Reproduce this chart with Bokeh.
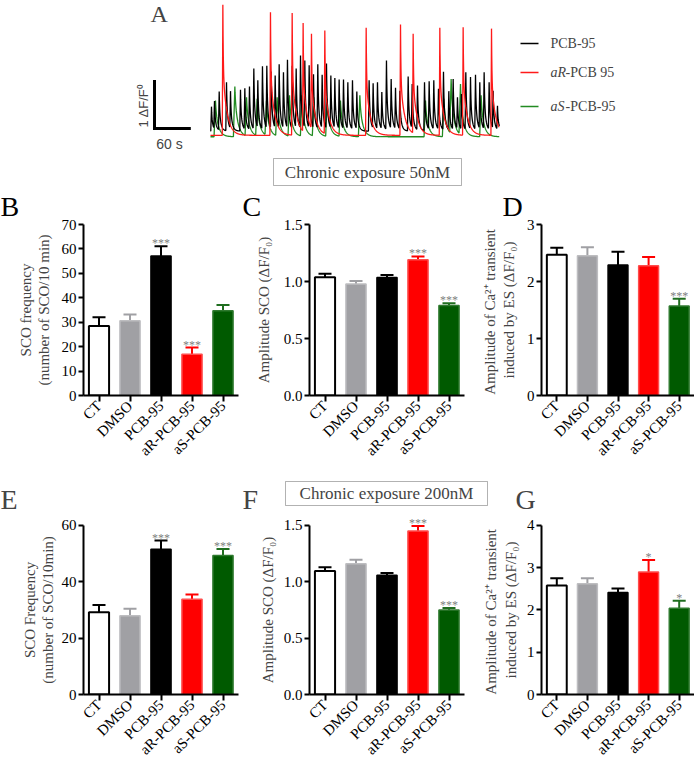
import math
import numpy as np
from bokeh.plotting import figure
from bokeh.models import (Range1d, FactorRange, Label, BoxAnnotation, FixedTicker,
                          NumeralTickFormatter, ColumnDataSource)
from bokeh.layouts import column, row
from bokeh.embed import file_html
from bokeh.resources import INLINE

SERIF = "Liberation Serif"
SANS = "Liberation Sans"

# ------------------------------------------------------------------ data
GROUPS = ["CT", "DMSO", "PCB-95", "aR-PCB-95", "aS-PCB-95"]
BAR_FILL = ["#ffffff", "#a0a0a4", "#000000", "#ff0000", "#005a00"]
BAR_EDGE = ["#000000", "#bdbdc0", "#000000", "#ff4d4d", "#2f7a2f"]
ERR_COLOR = ["#000000", "#a0a0a4", "#000000", "#ff0000", "#1f6e1f"]

B_MEAN = [28.5, 30.6, 57.1, 16.9, 34.7]
B_SEM = [3.5, 2.6, 4.0, 2.7, 2.3]
B_STARS = ["", "", "***", "***", ""]
C_MEAN = [1.037, 0.978, 1.034, 1.19, 0.79]
C_SEM = [0.030, 0.027, 0.024, 0.030, 0.020]
C_STARS = ["", "", "", "***", "***"]
D_MEAN = [2.47, 2.45, 2.29, 2.275, 1.568]
D_SEM = [0.12, 0.15, 0.23, 0.155, 0.13]
D_STARS = ["", "", "", "", "***"]
E_MEAN = [29.2, 27.9, 51.5, 33.8, 49.3]
E_SEM = [2.6, 2.5, 3.1, 1.7, 2.3]
E_STARS = ["", "", "***", "", "***"]
F_MEAN = [1.095, 1.16, 1.057, 1.45, 0.75]
F_SEM = [0.033, 0.036, 0.021, 0.044, 0.018]
F_STARS = ["", "", "", "***", "***"]
G_MEAN = [2.58, 2.62, 2.41, 2.90, 2.04]
G_SEM = [0.17, 0.13, 0.10, 0.28, 0.18]
G_STARS = ["", "", "", "*", "*"]

B_TICKS = [0, 10, 20, 30, 40, 50, 60, 70]
C_TICKS = [0, 0.5, 1.0, 1.5]
D_TICKS = [0, 1, 2, 3]
E_TICKS = [0, 20, 40, 60]
F_TICKS = [0, 0.5, 1.0, 1.5]
G_TICKS = [0, 1, 2, 3, 4]

B_TITLE = ["SCO frequency", "(number of SCO/10 min)"]
C_TITLE = ["Amplitude SCO (ΔF/F₀)"]
D_TITLE = ["Amplitude  of Ca²⁺ transient", "induced by ES (ΔF/F₀)"]
E_TITLE = ["SCO Frequency", "(number of SCO/10min)"]
F_TITLE = ["Amplitude SCO (ΔF/F₀)"]
G_TITLE = ["Amplitude  of Ca²⁺ transient", "induced by ES (ΔF/F₀)"]

# Panel A: spontaneous Ca2+ oscillation traces (peak time s, peak ΔF/F0)
BLACK_T = [1.7, 6.9, 15.0, 27.6, 34.5, 51.7, 59.2, 67.2, 74.7, 81.6, 89.6, 97.1,
           104.6, 111.5, 118.4, 125.8, 132.7, 140.8, 147.7, 155.2, 162.6, 170.1,
           177.6, 185.0, 192.5, 200.0, 207.5, 214.4, 221.8, 229.3, 236.8, 244.8,
           252.3, 273.5, 280.4, 287.9, 295.4, 303.4, 311.5, 319.0, 326.4, 340.8,
           347.7, 356.9, 369.0, 377.0, 385.0, 393.1, 401.7, 410.9, 418.4, 425.8,
           432.7, 440.2, 448.3, 456.9, 464.3, 471.8, 480.4, 487.3, 494.8]
BLACK_P = [0.55, 0.67, 0.87, 1.07, 0.88, 0.91, 0.94, 0.98, 1.36, 1.11, 1.41, 1.42,
           1.30, 1.21, 1.45, 1.28, 1.55, 1.42, 1.36, 1.64, 1.53, 1.43,
           1.24, 1.45, 1.23, 1.47, 1.21, 1.16, 1.13, 1.13, 1.07, 1.11,
           0.87, 1.11, 1.05, 1.07, 0.86, 1.53, 1.14, 0.95, 0.89, 1.19,
           1.03, 1.00, 1.07, 1.09, 1.11, 0.93, 1.29, 0.88, 1.14, 0.75,
           0.82, 1.28, 1.18, 1.23, 1.07, 1.28, 1.07, 0.89, 0.57]
BLACK_BASE = 0.03
RED_T = [21.3, 103.4, 140.8, 159.7, 174.1, 197.1, 268.4, 327.6, 349.4, 395.4, 435.6, 484.5]
RED_P = [2.72, 2.56, 2.54, 2.33, 2.10, 2.17, 2.23, 2.30, 2.10, 2.23, 2.24, 2.21]
RED_BASE = -0.06
GREEN_T = [8.6, 42.0, 62.1, 80.4, 96.5, 114.9, 136.2, 157.5, 178.1, 201.1, 224.1,
           257.5, 370.7, 402.3, 414.9, 431.0, 466.6]
GREEN_P = [0.68, 0.98, 0.75, 0.72, 0.68, 0.75, 0.79, 0.79, 0.75, 0.72, 0.68,
           0.79, 0.68, 0.72, 1.14, 1.03, 0.79]
GREEN_BASE = -0.09
TRACE_END = 498.0
LEGEND_PREFIX = ["", "aR", "aS"]
LEGEND_REST = ["PCB-95", "-PCB 95", "-PCB-95"]
SCALE_T = 60   # s
SCALE_Y = 1    # ΔF/F0


def waveform(times, peaks, base, rise, tau1, tau2, w1, t_end, dt=0.4):
    def kern(d):
        return w1 * np.exp(-d / tau1) + (1 - w1) * np.exp(-d / tau2)
    xs, ys = [0.0], [base]
    for i, (t, pk) in enumerate(zip(times, peaks)):
        o = max(t - rise, xs[-1])
        if i > 0:
            tp, ap = times[i - 1], peaks[i - 1] - base
            seg = np.arange(tp + dt, o, dt)
            xs.extend(seg.tolist())
            ys.extend((base + ap * kern(seg - tp)).tolist())
            vo = base + ap * kern(o - tp)
        else:
            vo = base
        xs.append(o)
        ys.append(vo)
        xs.append(t)
        ys.append(pk)
    tp, ap = times[-1], peaks[-1] - base
    seg = np.arange(tp + dt, t_end, dt)
    xs.extend(seg.tolist())
    ys.extend((base + ap * kern(seg - tp)).tolist())
    return xs, ys


W_TOTAL = 694


def blank_fig(width, height, top_b=0, bottom_b=0):
    inner = height - top_b - bottom_b
    p = figure(width=width, height=height, x_range=Range1d(0, width),
               y_range=Range1d(inner, 0), x_axis_type=None, y_axis_type=None,
               output_backend="svg", toolbar_location=None,
               min_border_left=0, min_border_right=0, min_border_top=top_b,
               min_border_bottom=bottom_b)
    p.outline_line_color = None
    return p


# ------------------------------------------------------------------ panel A
A_H = 186
PX_PER_S = 0.58
PX_PER_U = 47.0
T0_PAGE = 210.0
Y0_PAGE = 132.0


def ax(px):
    return (px - T0_PAGE) / PX_PER_S


def ay(py):
    return (Y0_PAGE - py) / PX_PER_U


pa = figure(width=W_TOTAL, height=A_H, x_range=Range1d(ax(0), ax(W_TOTAL)),
            y_range=Range1d(ay(A_H), ay(0)), x_axis_type=None, y_axis_type=None,
            output_backend="svg", toolbar_location=None,
            min_border_left=0, min_border_right=0, min_border_top=0, min_border_bottom=0)
pa.outline_line_color = None

gx, gy = waveform(GREEN_T, GREEN_P, GREEN_BASE, 2.5, 1.2, 5.5, 0.25, TRACE_END)
bx, by = waveform(BLACK_T, BLACK_P, BLACK_BASE, 1.2, 0.8, 3.0, 0.45, TRACE_END)
rx, ry = waveform(RED_T, RED_P, RED_BASE, 1.0, 0.7, 7.0, 0.5, TRACE_END)
TRACE_COLORS = ["#000000", "#ff1a1a", "#228b22"]
pa.line(gx, gy, line_color=TRACE_COLORS[2], line_width=1.3)
pa.line(bx, by, line_color=TRACE_COLORS[0], line_width=1.3)
pa.line(rx, ry, line_color=TRACE_COLORS[1], line_width=1.3)

# scale bar
sb_t, sb_y = ax(154), ay(128)
pa.segment(x0=[sb_t, sb_t], y0=[sb_y, sb_y], x1=[sb_t, sb_t + SCALE_T],
           y1=[sb_y + SCALE_Y, sb_y], line_color="black", line_width=3, line_cap="square")
pa.add_layout(Label(x=ax(169), y=ay(143), text=f"{SCALE_T} s", text_align="center",
                    text_baseline="middle", text_font=SANS, text_font_size="14px"))
pa.add_layout(Label(x=ax(143), y=ay(105), text=f"{SCALE_Y} ΔF/F⁰", angle=math.pi / 2,
                    text_align="center", text_baseline="middle", text_font=SANS,
                    text_font_size="13px"))
pa.add_layout(Label(x=ax(150), y=ay(0), text="A", text_align="left", text_baseline="top",
                    text_font=SERIF, text_font_size="24px"))

# legend
leg_y = [43, 72, 106]
for pre, rest, col, py in zip(LEGEND_PREFIX, LEGEND_REST, TRACE_COLORS, leg_y):
    pa.segment(x0=[ax(520)], y0=[ay(py)], x1=[ax(538)], y1=[ay(py)], line_color=col,
               line_width=1.5)
    xoff = 550
    if pre:
        pa.add_layout(Label(x=ax(xoff), y=ay(py), text=pre, text_align="left",
                            text_baseline="middle", text_font=SERIF,
                            text_font_style="italic", text_font_size="14px"))
        xoff += 1.08 * 14
    pa.add_layout(Label(x=ax(xoff), y=ay(py), text=rest, text_align="left",
                        text_baseline="middle", text_font=SERIF, text_font_size="14px"))

pa.add_layout(BoxAnnotation(left=ax(273), right=ax(461), top=ay(158), bottom=ay(185),
                            fill_color=None, line_color="black", line_width=1))
pa.add_layout(Label(x=ax(367), y=ay(171.5), text="Chronic exposure 50nM",
                    text_align="center", text_baseline="middle", text_font=SERIF,
                    text_font_size="17px"))

# ------------------------------------------------------------------ bar panels
FRAME_W = 155


def bar_panel(width, left, height, top, frame_h, headroom, mean, sem, stars, ticks, fmt):
    right = width - left - FRAME_W
    bottom = height - top - frame_h
    ymax = ticks[-1]
    px_y = ymax / frame_h
    p = figure(width=width, height=height, x_range=FactorRange(*GROUPS),
               y_range=Range1d(0, ymax + headroom * px_y), output_backend="svg",
               toolbar_location=None, min_border_left=left, min_border_right=right,
               min_border_top=top - headroom, min_border_bottom=bottom)
    p.outline_line_color = None
    p.grid.visible = False
    upper = [m + s for m, s in zip(mean, sem)]
    src = ColumnDataSource(dict(x=GROUPS, top=mean, upper=upper, fill=BAR_FILL,
                                edge=BAR_EDGE, err=ERR_COLOR, lw=[2, 1.5, 1.5, 1.5, 1.5]))
    p.segment(x0="x", y0="top", x1="x", y1="upper", line_color="err", line_width=2,
              source=src)
    p.scatter(x="x", y="upper", marker="dash", size=13, line_color="err", line_width=2,
              source=src)
    p.vbar(x="x", top="top", bottom=0, width=0.65, fill_color="fill", line_color="edge",
           line_width="lw", source=src)

    yax = p.yaxis[0]
    yax.ticker = FixedTicker(ticks=ticks)
    yax.formatter = NumeralTickFormatter(format=fmt)
    yax.bounds = (0, ymax)
    xax = p.xaxis[0]
    for a in (yax, xax):
        a.axis_line_width = 2
        a.major_tick_line_width = 2
        a.major_tick_in = 0
        a.minor_tick_line_color = None
        a.major_label_text_font = SERIF
        a.major_label_text_font_size = "15px"
        a.major_label_text_color = "#000000"
        a.major_label_standoff = 2
    yax.major_tick_out = 5
    xax.major_tick_out = 6
    xax.major_label_orientation = math.pi / 4

    for i, s in enumerate(stars):
        if s:
            p.add_layout(Label(x=i + 0.5, y=upper[i] + 3 * px_y, text=s,
                               text_align="center", text_baseline="middle",
                               text_font=SERIF, text_font_size="12px",
                               text_color="#808080"))
    return p


def side_panel(width, height, top, frame_h, headroom, titles, title_x, letter=None,
               letter_x=0):
    # borders identical to the neighbouring bar panels, so the row keeps frames aligned
    top_b = top - headroom
    bottom_b = height - top - frame_h
    p = blank_fig(width, height, top_b, bottom_b)
    for txt, x in zip(titles, title_x):
        p.add_layout(Label(x=x, y=headroom + frame_h / 2, text=txt, angle=math.pi / 2,
                           text_align="center", text_baseline="middle", text_font=SERIF,
                           text_font_size="15px"))
    if letter:
        p.title.text = letter
        p.title.text_font = SERIF
        p.title.text_font_size = "28px"
        p.title.text_font_style = "normal"
        p.title.text_color = "#000000"
        p.title.align = "left"
        p.title.offset = letter_x
        p.title.standoff = -3
    return p


# row 2 (page y 186..479), frame 224..395
R2_H, R2_TOP, R2_FH, R2_HR = 293, 38, 171, 4
sb = side_panel(55, R2_H, R2_TOP, R2_FH, R2_HR, B_TITLE, [25, 43], "B", 0)
pb = bar_panel(185, 28, R2_H, R2_TOP, R2_FH, R2_HR, B_MEAN, B_SEM, B_STARS, B_TICKS, "0")
sc = side_panel(39, R2_H, R2_TOP, R2_FH, R2_HR, C_TITLE, [23], "C", 2)
pc = bar_panel(187, 30, R2_H, R2_TOP, R2_FH, R2_HR, C_MEAN, C_SEM, C_STARS, C_TICKS, "0.0")
sd = side_panel(57, R2_H, R2_TOP, R2_FH, R2_HR, D_TITLE, [23, 42], "D", 36)
pd = bar_panel(171, 16, R2_H, R2_TOP, R2_FH, R2_HR, D_MEAN, D_SEM, D_STARS, D_TICKS, "0")

# strip with second condition box and letters E, F, G (page y 477..513)
SP_H = 36
ps = blank_fig(W_TOTAL, SP_H)
ps.add_layout(BoxAnnotation(left=285, right=487, top=2, bottom=26, fill_color=None,
                            line_color="black", line_width=1))
ps.add_layout(Label(x=386, y=14, text="Chronic exposure 200nM", text_align="center",
                    text_baseline="middle", text_font=SERIF, text_font_size="17px"))
for lt, lx in zip(["E", "F", "G"], [0, 242, 515]):
    ps.add_layout(Label(x=lx, y=4, text=lt, text_align="left", text_baseline="top",
                        text_font=SERIF, text_font_size="28px"))

# row 3 (page y 513..764), frame 523..694
R3_H, R3_TOP, R3_FH, R3_HR = 251, 10, 171, 9
se = side_panel(58, R3_H, R3_TOP, R3_FH, R3_HR, E_TITLE, [29, 47])
pe = bar_panel(182, 25, R3_H, R3_TOP, R3_FH, R3_HR, E_MEAN, E_SEM, E_STARS, E_TICKS, "0")
sf = side_panel(39, R3_H, R3_TOP, R3_FH, R3_HR, F_TITLE, [27])
pf = bar_panel(187, 30, R3_H, R3_TOP, R3_FH, R3_HR, F_MEAN, F_SEM, F_STARS, F_TICKS, "0.0")
sg = side_panel(57, R3_H, R3_TOP, R3_FH, R3_HR, G_TITLE, [24, 44])
pg = bar_panel(171, 16, R3_H, R3_TOP, R3_FH, R3_HR, G_MEAN, G_SEM, G_STARS, G_TICKS, "0")

layout = column(pa, row(sb, pb, sc, pc, sd, pd), ps, row(se, pe, sf, pf, sg, pg))
open("out.html", "w").write(file_html(layout, INLINE))
